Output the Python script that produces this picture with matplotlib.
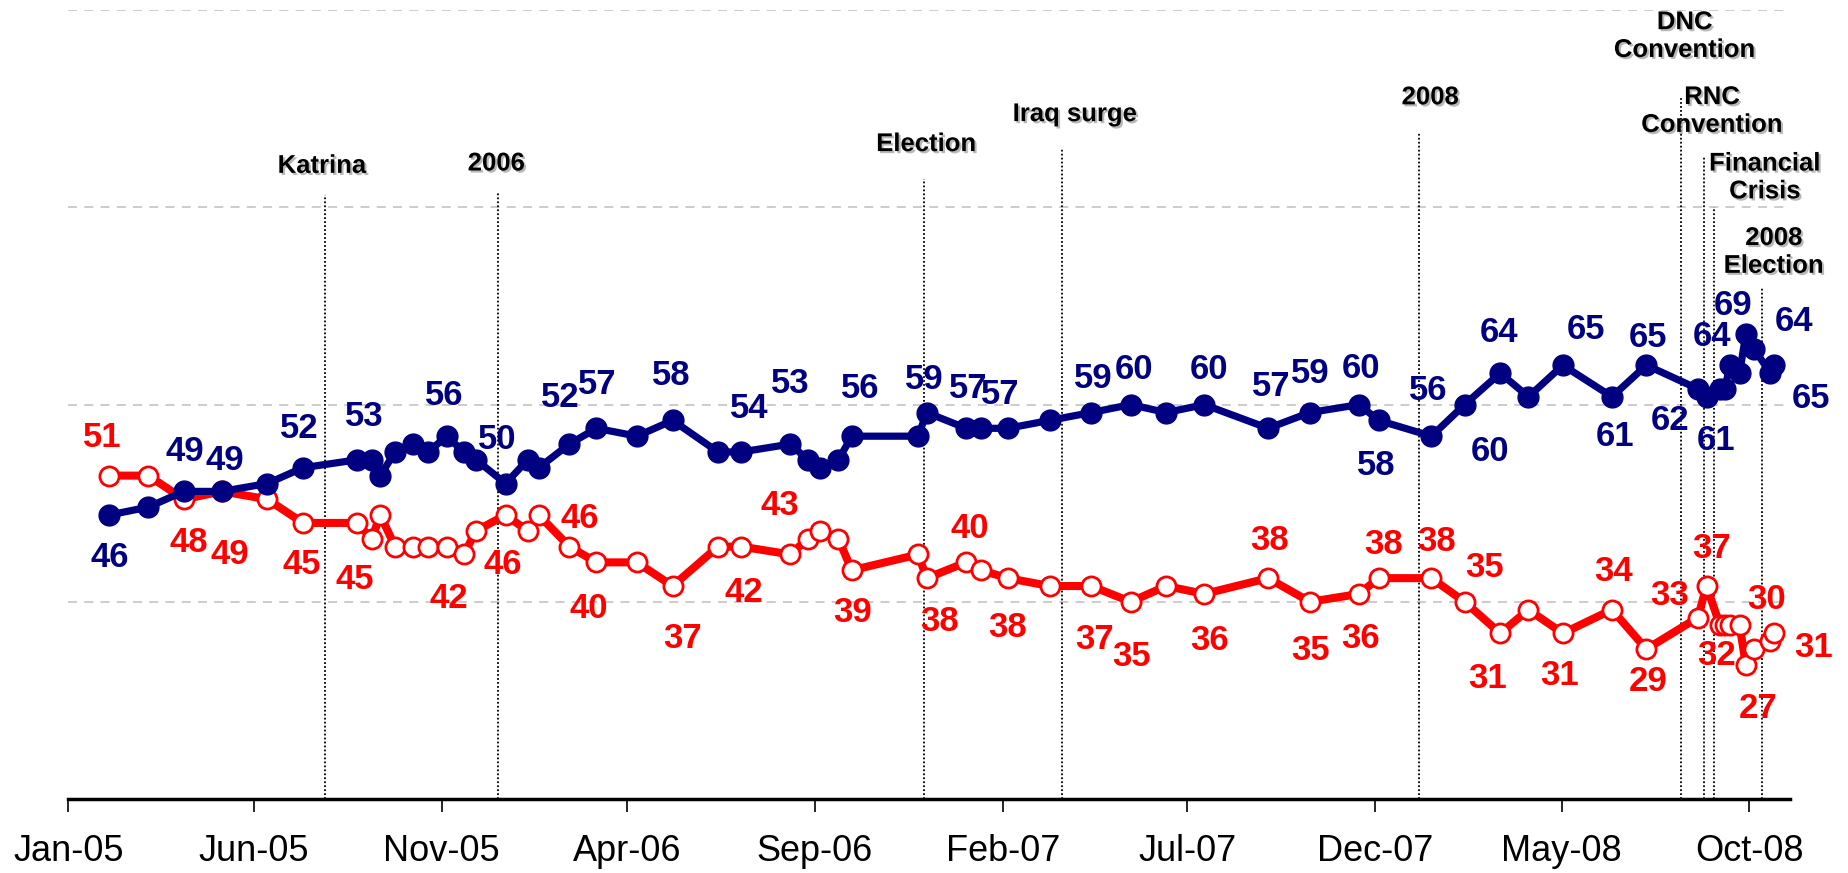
import pandas as pd
import matplotlib
matplotlib.use('Agg')
import matplotlib.pyplot as plt
import matplotlib.patheffects as pe

plt.rcParams['font.family'] = ['Liberation Sans', 'DejaVu Sans']

# survey dates
dates = [
    '2005-02-03', '2005-03-07', '2005-04-05', '2005-05-06', '2005-06-12', '2005-07-11', '2005-08-24', '2005-09-05',
    '2005-09-12', '2005-09-24', '2005-10-09', '2005-10-21', '2005-11-05', '2005-11-19', '2005-11-29', '2005-12-23',
    '2006-01-10', '2006-01-19', '2006-02-13', '2006-03-07', '2006-04-09', '2006-05-08', '2006-06-14', '2006-07-03',
    '2006-08-12', '2006-08-26', '2006-09-05', '2006-09-20', '2006-10-01', '2006-11-24', '2006-12-01', '2007-01-02',
    '2007-01-14', '2007-02-05', '2007-03-11', '2007-04-14', '2007-05-16', '2007-06-14', '2007-07-15', '2007-09-05',
    '2007-10-09', '2007-11-18', '2007-12-04', '2008-01-16', '2008-02-12', '2008-03-12', '2008-04-04', '2008-05-02',
    '2008-06-11', '2008-07-09', '2008-08-20', '2008-08-27', '2008-09-07', '2008-09-11', '2008-09-15', '2008-09-23',
    '2008-09-28', '2008-10-05', '2008-10-18', '2008-10-21',
]

blue_vals = [46, 47, 49, 49, 50, 52, 53, 53, 51, 54,
             55, 54, 56, 54, 53, 50, 53, 52, 55, 57,
             56, 58, 54, 54, 55, 53, 52, 53, 56, 56,
             59, 57, 57, 57, 58, 59, 60, 59, 60, 57,
             59, 60, 58, 56, 60, 64, 61, 65, 61, 65,
             62, 61, 62, 62, 65, 64, 69, 67, 64, 65]

red_vals = [51, 51, 48, 49, 48, 45, 45, 43, 46, 42,
            42, 42, 42, 41, 44, 46, 44, 46, 42, 40,
            40, 37, 42, 42, 41, 43, 44, 43, 39, 41,
            38, 40, 39, 38, 37, 37, 35, 37, 36, 38,
            35, 36, 38, 38, 35, 31, 34, 31, 34, 29,
            33, 37, 32, 32, 32, 32, 27, 29, 30, 31]

tick_labels = ['Jan-05', 'Jun-05', 'Nov-05', 'Apr-06', 'Sep-06', 'Feb-07', 'Jul-07', 'Dec-07', 'May-08', 'Oct-08']

event_names = ['Katrina', '2006', 'Election', 'Iraq surge', '2008',
               'DNC\nConvention', 'RNC\nConvention', 'Financial\nCrisis', '2008\nElection']
event_dates = ['2005-07-29', '2005-12-17', '2006-11-29', '2007-03-21', '2008-01-06',
               '2008-08-06', '2008-08-25', '2008-09-02', '2008-10-11']

# layout: how high each event line goes, where its text sits (pixels)
event_tops = [86.6, 86.9, 88.6, 92.4, 94.4, 99.0, 91.4, 85.0, 74.8]
event_offsets = [(-3, 29), (-2, 29), (2, 35), (13, 35), (11, 36), (4, 61), (8, 46), (51, 30), (12, 36)]

# which points carry a value label, and the label shift in pixels (dx, dy downwards)
blue_label_pos = {
    0: (1, 39), 2: (1, -43), 3: (3, -34), 5: (-4, -43), 6: (7, -47), 12: (-2, -44), 15: (-8, -48),
    17: (22, -74), 19: (1, -47), 21: (-1, -48), 23: (8, -47), 25: (-17, -80), 28: (8, -51),
    30: (-2, -37), 31: (2, -43), 33: (-8, -37), 35: (2, -38), 36: (3, -39), 38: (5, -39),
    39: (3, -45), 40: (0, -43), 41: (2, -40), 42: (-2, 42), 43: (-3, -49), 44: (25, 43),
    45: (-1, -44), 47: (23, -39), 48: (3, 36), 49: (2, -31), 50: (-28, 28), 51: (10, 40),
    55: (-28, -40), 56: (-13, -32), 58: (24, -55), 59: (37, 30),
}
red_label_pos = {
    0: (-7, -42), 2: (5, 40), 3: (8, 60), 5: (-1, 38), 6: (-2, 53), 12: (2, 48), 15: (-3, 46),
    17: (41, 0), 19: (-8, 43), 21: (10, 49), 23: (2, 42), 25: (-28, -37), 28: (1, 39),
    30: (13, 40), 31: (4, -37), 33: (0, 46), 35: (3, 50), 36: (1, 51), 38: (5, 43),
    39: (1, -41), 40: (1, 45), 41: (2, 41), 42: (5, -37), 43: (5, -40), 44: (20, -38),
    45: (-13, 42), 47: (-3, 39), 48: (2, -42), 49: (2, 29), 50: (-28, -26), 51: (5, -41),
    52: (-3, 27), 56: (12, 40), 58: (-4, -45), 59: (40, 11),
}

BLUE = '#000080'
RED = '#FF0000'

x = pd.to_datetime(dates)

fig = plt.figure(figsize=(18.49, 8.73), dpi=100)
ax = fig.add_axes([0.037, 0.0848, 0.9311, 0.9034])

ax.plot(x, red_vals, color=RED, lw=5.8, marker='o', ms=13.8, mfc='white', mec=RED, mew=2, zorder=3)
ax.plot(x, blue_vals, color=BLUE, lw=5.2, marker='o', ms=15, mfc=BLUE, mec=BLUE, zorder=4)

# event markers
shadow = [pe.withSimplePatchShadow(offset=(1.5, -1.5), shadow_rgbFace='#9a9a9a', alpha=0.7)]
for name, d, top, (dx, dy) in zip(event_names, event_dates, event_tops, event_offsets):
    d = pd.Timestamp(d)
    ax.plot([d, d], [10, top], color='black', lw=1.3, ls=(0, (1, 1.2)), zorder=2)
    ax.annotate(name, xy=(d, top), xytext=(dx, dy), textcoords='offset pixels',
                ha='center', va='center', fontsize=18.5, fontweight='bold',
                path_effects=shadow, annotation_clip=False, zorder=6)

# value labels
for vals, pos, col in [(blue_vals, blue_label_pos, BLUE), (red_vals, red_label_pos, RED)]:
    for i, (dx, dy) in pos.items():
        ax.annotate(str(vals[i]), xy=(x[i], vals[i]), xytext=(dx, -dy), textcoords='offset pixels',
                    ha='center', va='center_baseline', fontsize=25, fontweight='bold',
                    color=col, annotation_clip=False, zorder=7)

ax.set_xlim(pd.Timestamp('2005-01-01'), pd.Timestamp('2008-11-03'))
ax.set_ylim(10, 110)

ax.set_xticks(pd.to_datetime(tick_labels, format='%b-%y'))
ax.set_xticklabels(tick_labels)
ax.tick_params(axis='x', direction='out', length=9.5, width=1.2, labelsize=26, pad=16)

ax.set_yticks([10, 35, 60, 85, 110])
ax.tick_params(axis='y', length=0, labelleft=False)
ax.yaxis.grid(True, color='#c8c8c8', ls=(0, (5, 4)), lw=1.3)
ax.set_axisbelow(True)

for side in ['top', 'right', 'left']:
    ax.spines[side].set_visible(False)
ax.spines['bottom'].set_linewidth(2.5)
ax.spines['bottom'].set_zorder(5)

fig.savefig('out.png', dpi=100)
